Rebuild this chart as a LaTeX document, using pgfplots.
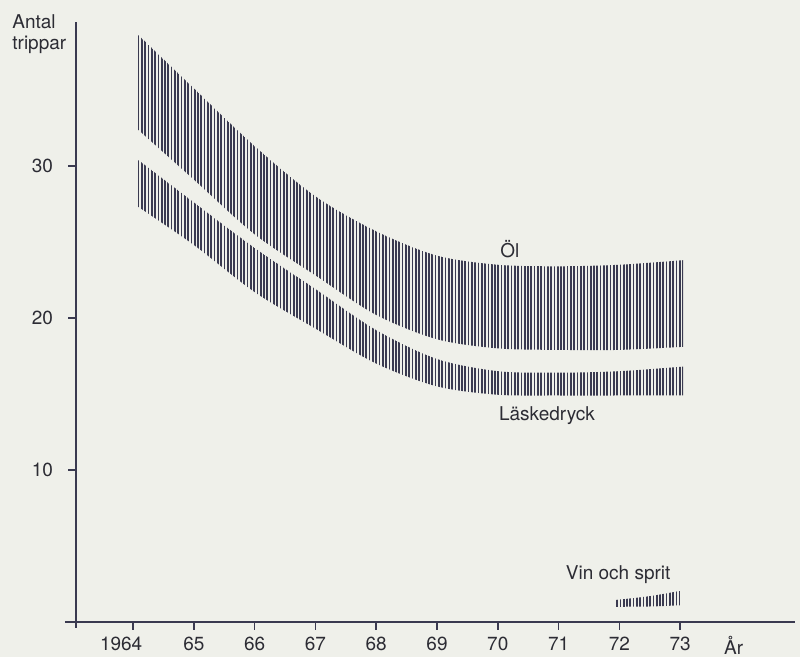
\documentclass[border=0pt]{standalone}
\usepackage{fontspec}
\setmainfont{TeX Gyre Heros}
\usepackage{pgfplots}
\pgfplotsset{compat=1.18}
\usepgfplotslibrary{fillbetween}
\usetikzlibrary{patterns.meta}
\definecolor{bgc}{HTML}{EFF0EA}
\definecolor{ink}{HTML}{3A3A50}
\definecolor{txt}{HTML}{2C2C34}
\begin{document}
\begin{tikzpicture}
\begin{axis}[name=ax, at={(0,0)}, anchor=south west, scale only axis, width=359.5pt, height=300pt,
  set layers,
  xmin=1963.06, xmax=1974.89, ymin=0, ymax=39.47,
  axis lines=left, axis line style={-, draw=ink, line width=0.75pt},
  tick align=outside, major tick length=4pt,
  tick style={draw=ink, line width=0.75pt},
  xtick={1964,1965,1966,1967,1968,1969,1970,1971,1972,1973},
  xticklabels={\hspace*{-12pt}1964,65,66,67,68,69,70,71,72,73},
  ytick={10,20,30},
  yticklabel style={xshift=-4pt},
  ticklabel style={font=\fontsize{9.5}{11}\selectfont, text=txt},
  /pgf/number format/assume math mode=true,
  clip=false,
]
\begin{pgfonlayer}{axis background}
\fill[bgc] ([xshift=-38pt,yshift=-17.5pt]rel axis cs:0,0) rectangle ([xshift=362pt,yshift=311pt]rel axis cs:0,0);
\end{pgfonlayer}
% Öl
\addplot[draw=none, smooth, name path=ot] table {
1964.05 38.75
1965 35.1
1966 31.3
1967 28.0
1968 25.7
1969 24.1
1970 23.5
1971 23.4
1972 23.5
1973.05 23.8
};
\addplot[draw=none, smooth, name path=ob] table {
1964.05 32.5
1965 29.1
1966 25.5
1967 22.8
1968 20.2
1969 18.6
1970 18.0
1971 17.9
1972 17.9
1973.05 18.1
};
% Läskedryck
\addplot[draw=none, smooth, name path=lt] table {
1964.05 30.5
1965 27.6
1966 24.6
1967 21.9
1968 19.2
1969 17.3
1970 16.5
1971 16.4
1972 16.5
1973.05 16.8
};
\addplot[draw=none, smooth, name path=lb] table {
1964.05 27.4
1965 24.8
1966 21.7
1967 19.3
1968 17.0
1969 15.5
1970 14.95
1971 14.9
1972 14.9
1973.05 14.9
};
% Vin och sprit
\addplot[draw=none, smooth, name path=vt] table {
1971.94 1.45
1972.5 1.7
1973.0 2.05
};
\addplot[draw=none, smooth, name path=vb] table {
1971.94 1.0
1972.5 1.02
1973.0 1.1
};
\addplot[pattern={Lines[angle=90,distance=1.65pt,line width=0.85pt]}, pattern color=ink, draw=none] fill between[of=ot and ob];
\addplot[pattern={Lines[angle=90,distance=1.65pt,line width=0.85pt]}, pattern color=ink, draw=none] fill between[of=lt and lb];
\addplot[pattern={Lines[angle=90,distance=1.65pt,line width=0.85pt]}, pattern color=ink, draw=none] fill between[of=vt and vb];

\node[font=\fontsize{9.5}{11}\selectfont, text=txt] at (axis cs:1970.2,24.5) {Öl};
\node[font=\fontsize{9.5}{11}\selectfont, text=txt] at (axis cs:1970.81,13.6) {Läskedryck};
\node[font=\fontsize{9.5}{11}\selectfont, text=txt] at (axis cs:1971.98,3.1) {Vin och sprit};
\node[font=\fontsize{9.5}{11}\selectfont, text=txt, anchor=base] at ([yshift=-16.5pt]axis cs:1973.88,0) {År};
\end{axis}
\node[anchor=north west, align=left, inner sep=0pt, font=\fontsize{9.5}{10.5}\selectfont, text=txt] at ([xshift=-32pt,yshift=4pt]ax.north west) {Antal\\trippar};
\draw[ink, line width=0.75pt] ([xshift=-5.5pt]ax.south west) -- (ax.south west) -- ([yshift=-3pt]ax.south west);
\end{tikzpicture}
\end{document}
